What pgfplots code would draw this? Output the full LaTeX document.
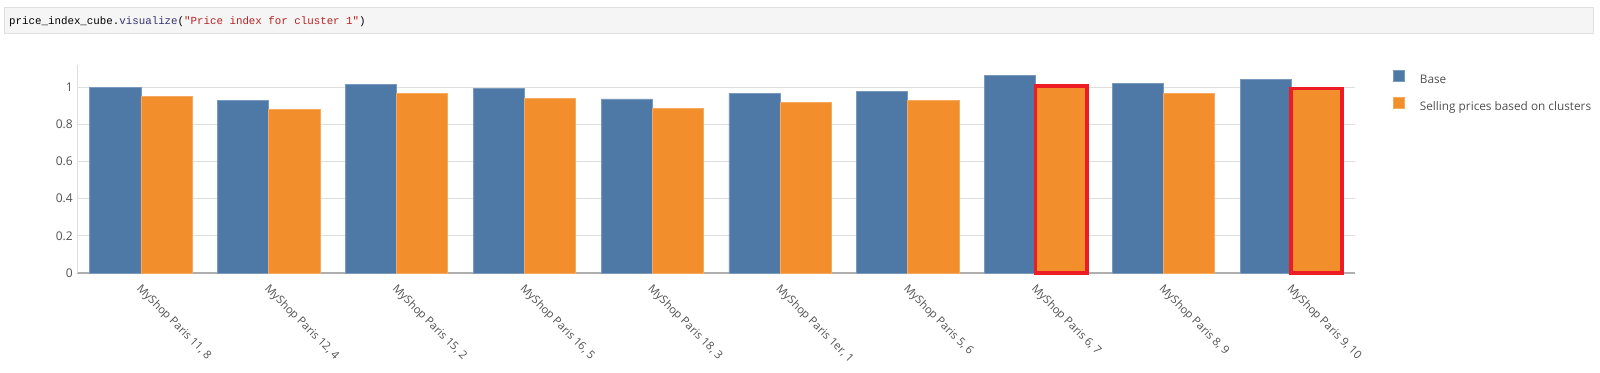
\documentclass[border=0pt]{standalone}
\usepackage{pgfplots}
\pgfplotsset{compat=1.18}
\usepackage{fontspec}
\setmainfont{Open Sans}
\newfontfamily\codefont{Liberation Mono}
\definecolor{barblue}{RGB}{78,121,167}
\definecolor{barorange}{RGB}{242,142,43}
\definecolor{hlred}{RGB}{237,28,36}
\definecolor{txt}{RGB}{80,80,80}
\definecolor{gridc}{RGB}{222,222,222}
\definecolor{axc}{RGB}{175,175,175}
\definecolor{codebg}{RGB}{245,245,245}
\definecolor{codeborder}{RGB}{224,224,224}
\definecolor{codestr}{RGB}{186,33,33}
\definecolor{codeattr}{RGB}{50,50,110}
\begin{document}
\begin{tikzpicture}
\path[use as bounding box] (0,0) rectangle (1600pt,372pt);
\filldraw[fill=codebg, draw=codeborder, line width=1pt] (4pt,364.7pt) rectangle (1593pt,338.7pt);
\node[anchor=base west, inner sep=0pt, font=\codefont\fontsize{10.8}{12}\selectfont] at (9pt,347pt)
  {price\_index\_cube.\textcolor{codeattr}{visualize}(\textcolor{codestr}{"Price index for cluster 1"})};
\begin{axis}[
  at={(77pt,99pt)}, anchor=south west,
  scale only axis, width=1278pt, height=208pt,
  xmin=-0.5, xmax=9.5, ymin=0, ymax=1.12,
  ybar=0pt, bar width=0.4,
  xtick={0,1,2,3,4,5,6,7,8,9},
  xticklabels={{MyShop Paris 11, 8},{MyShop Paris 12, 4},{MyShop Paris 15, 2},{MyShop Paris 16, 5},{MyShop Paris 18, 3},{MyShop Paris 1er, 1},{MyShop Paris 5, 6},{MyShop Paris 6, 7},{MyShop Paris 8, 9},{MyShop Paris 9, 10}},
  ytick={0,0.2,0.4,0.6,0.8,1},
  ymajorgrids, major grid style={gridc, line width=1pt},
  axis x line*=bottom, axis y line*=left,
  x axis line style={axc, line width=1.3pt, -},
  y axis line style={gridc, line width=1pt, -},
  tick style={draw=none},
  ticklabel style={font=\fontsize{12}{14}\selectfont, text=txt},
  /pgf/number format/assume math mode=true,
  xticklabel style={font=\fontsize{11.3}{13}\selectfont, inner sep=0pt, xshift=-2.5pt, yshift=-10pt, rotate=-45, anchor=west},
  yticklabel style={inner sep=0pt, xshift=-4pt},
  clip=false,
  legend style={at={(axis description cs:1,1)}, anchor=north west, xshift=38pt, yshift=-5pt,
    draw=none, fill=none, inner sep=0pt, column sep=13pt, row sep=9.5pt,
    font=\fontsize{11.8}{14}\selectfont, text=txt},
  legend cell align=left,
  legend image code/.code={\fill[#1] (0pt,-1.2pt) rectangle (11pt,9.8pt);},
]
\addplot[ybar, bar shift=-0.2, fill=barblue, draw=barblue!75!white, line width=0.6pt]
  coordinates {(0,1.000) (1,0.930) (2,1.016) (3,0.993) (4,0.937) (5,0.968) (6,0.978) (7,1.062) (8,1.021) (9,1.044)};
\addplot[ybar, bar shift=0.2, fill=barorange, draw=barorange!75!white, line width=0.6pt]
  coordinates {(0,0.949) (1,0.881) (2,0.966) (3,0.939) (4,0.888) (5,0.919) (6,0.928) (7,1.008) (8,0.969) (9,0.994)};
\addplot[ybar, bar shift=0.2, fill=none, draw=hlred, line width=3.7pt, forget plot]
  coordinates {(7,1.008) (9,0.994)};
\legend{Base, Selling prices based on clusters}
\end{axis}
\end{tikzpicture}
\end{document}
